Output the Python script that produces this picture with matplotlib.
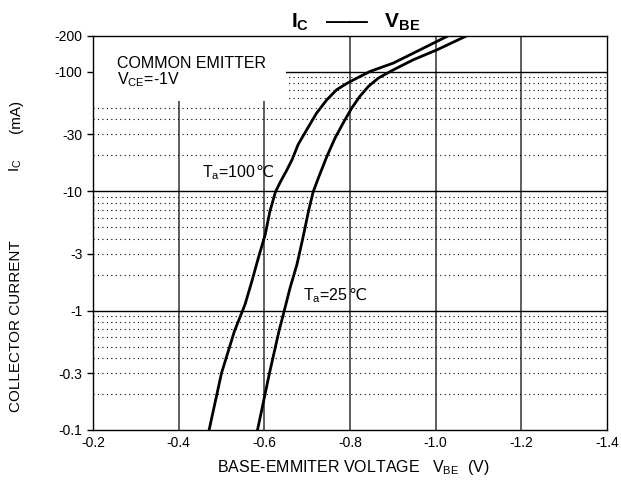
import matplotlib
matplotlib.use("Agg")
import matplotlib.pyplot as plt
from matplotlib.patches import Rectangle

plt.rcParams['font.family'] = ['Liberation Sans', 'DejaVu Sans']
plt.rcParams['mathtext.fontset'] = 'custom'
plt.rcParams['mathtext.rm'] = 'Liberation Sans'
plt.rcParams['mathtext.bf'] = 'Liberation Sans:bold'

# Ta = 100 C curve (V_BE in V, I_C in mA, plotted as magnitudes)
vbe_100 = [-0.471, -0.500, -0.530, -0.555, -0.571, -0.586, -0.602, -0.613,
           -0.626, -0.638, -0.651, -0.665, -0.679, -0.699, -0.722, -0.746,
           -0.769, -0.794, -0.816, -0.847, -0.901, -0.956, -1.026]
ic_100 = [0.1, 0.30, 0.67, 1.13, 1.77, 2.77, 4.34, 6.8,
          9.9, 12.1, 14.7, 18.5, 24.7, 32.8, 45.2, 58.5,
          71, 80.6, 88.7, 101, 118.5, 148.5, 198]

# Ta = 25 C curve
vbe_25 = [-0.584, -0.612, -0.634, -0.648, -0.660, -0.676, -0.690, -0.703,
          -0.714, -0.726, -0.746, -0.765, -0.784, -0.804, -0.823, -0.843,
          -0.866, -0.901, -0.948, -1.003, -1.069]
ic_25 = [0.1, 0.30, 0.67, 1.05, 1.55, 2.43, 4.07, 6.8,
         9.9, 12.9, 19.6, 27.9, 37.3, 49.8, 62.4, 75.6,
         88.7, 104, 126.5, 153, 198]

x_ticks = [-0.2, -0.4, -0.6, -0.8, -1.0, -1.2, -1.4]
y_ticks = [0.1, 0.3, 1, 3, 10, 30, 100, 200]
y_labels = ['-0.1', '-0.3', '-1', '-3', '-10', '-30', '-100', '-200']
decades = [1, 10, 100]
minor_lines = [k * d for d in [0.1, 1, 10] for k in range(2, 10)]

W, H = 621, 488
fig = plt.figure(figsize=(W / 100, H / 100), dpi=100)
ax = fig.add_axes([0.1498, 0.1189, 0.8277, 0.8074])

ax.set_yscale('log')
ax.set_xlim(-0.2, -1.4)
ax.set_ylim(0.1, 200)

# grid: solid at decades / volt ticks, dotted at the 2..9 steps
for v in x_ticks[1:-1]:
    ax.axvline(v, color='#333333', lw=1.1, zorder=1)
for v in decades:
    ax.axhline(v, color='black', lw=1.0, zorder=1)
for v in minor_lines:
    ax.axhline(v, color='black', lw=0.8, ls=(0, (1, 3)), zorder=1)

# white box behind the condition text
ax.add_patch(Rectangle((-0.2, 57), -0.45, 143, facecolor='white',
                       edgecolor='none', zorder=2))

ax.plot(vbe_100, ic_100, color='black', lw=2.0, zorder=3)
ax.plot(vbe_25, ic_25, color='black', lw=2.0, zorder=3)

ax.set_xticks(x_ticks)
ax.set_xticklabels(['%.1f' % v for v in x_ticks], fontsize=10)
ax.set_yticks(y_ticks)
ax.set_yticklabels(y_labels, fontsize=10)
ax.minorticks_off()
ax.tick_params(axis='y', direction='out', length=4, width=1)
ax.tick_params(axis='x', direction='in', length=0, pad=4)
for s in ax.spines.values():
    s.set_linewidth(1.0)
    s.set_zorder(4)

ax.text(-0.255, 107, 'COMMON EMITTER', fontsize=11.5, va='baseline', zorder=5)
ax.text(-0.255, 79, r'V$_\mathregular{CE}$=-1V', fontsize=11.5, va='baseline', zorder=5)


def temp_label(x, y, s):
    # mathtext part, then the celsius sign in plain text right after it
    t = ax.text(x, y, s, fontsize=11.5, va='baseline', zorder=5)
    fig.canvas.draw()
    w = t.get_window_extent().width * 72.0 / fig.dpi
    ax.annotate('℃', xy=(x, y), xytext=(w, 0), textcoords='offset points',
                fontsize=11.5, va='baseline', ha='left', zorder=5)


temp_label(-0.454, 13.1, r'T$_\mathregular{a}$=100')
temp_label(-0.690, 1.22, r'T$_\mathregular{a}$=25')

fig.text(0.573, 0.955, r'$\mathbf{I_C}$   ——   $\mathbf{V_{BE}}$',
         fontsize=15, fontweight='bold', ha='center', va='center')
fig.text(0.569, 0.042, r'BASE-EMMITER VOLTAGE   V$_\mathregular{BE}$  (V)',
         fontsize=11.5, ha='center', va='center')

# y axis title in three pieces, spread like the original
fig.text(16 / W, 1 - 326 / H, 'COLLECTOR CURRENT', fontsize=11,
         ha='center', va='center', rotation=90)
fig.text(16 / W, 1 - 165 / H, r'I$_\mathregular{C}$', fontsize=11,
         ha='center', va='center', rotation=90)
fig.text(16 / W, 1 - 116 / H, '(mA)', fontsize=11,
         ha='center', va='center', rotation=90)

fig.savefig('out.png', dpi=100)
